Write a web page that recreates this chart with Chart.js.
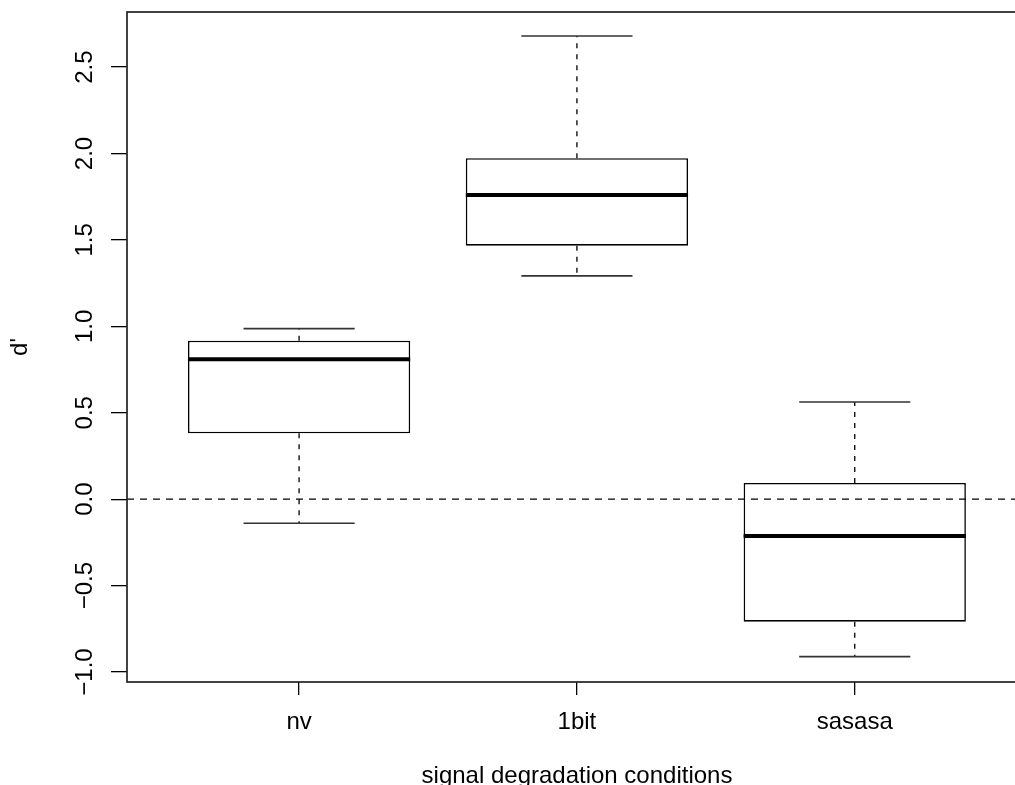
<!DOCTYPE html>
<html>
<head>
<meta charset="utf-8">
<script src="https://cdn.jsdelivr.net/npm/chart.js@4"></script>
<style>
  html, body { margin: 0; padding: 0; background: #fff; overflow: hidden; }
  #wrap { position: relative; width: 1040px; height: 785px; }
</style>
</head>
<body>
<div id="wrap"><canvas id="c" width="1040" height="785"></canvas></div>
<script>
// ---- data ----
const categories   = ['nv', '1bit', 'sasasa'];
const whiskerLow   = [-0.139, 1.292, -0.911];
const lowerQuart   = [0.381, 1.467, -0.709];
const medians      = [0.810, 1.760, -0.213];
const upperQuart   = [0.917, 1.973, 0.094];
const whiskerHigh  = [0.987, 2.680, 0.562];
const yTickValues  = [-1.0, -0.5, 0.0, 0.5, 1.0, 1.5, 2.0, 2.5];
const referenceY   = 0;
const xTitle = 'signal degradation conditions';
const yTitle = "d'";

const xPositions = categories.map((_, i) => i + 1);
const FONT = '24px "Liberation Sans", Arial, sans-serif';

function fmt(v) {
  const s = Math.abs(v).toFixed(1);
  return (v < 0 ? '\u2212' : '') + s;
}

const boxPlugin = {
  id: 'boxExtras',
  beforeDatasetsDraw(chart) {
    const ctx = chart.ctx, x = chart.scales.x, y = chart.scales.y;
    ctx.save();
    categories.forEach((c, i) => {
      const cx = x.getPixelForValue(xPositions[i]);
      ctx.strokeStyle = '#000';
      ctx.lineWidth = 1.3;
      ctx.setLineDash([5, 6]);
      ctx.beginPath();
      ctx.moveTo(cx, y.getPixelForValue(upperQuart[i]));
      ctx.lineTo(cx, y.getPixelForValue(whiskerHigh[i]));
      ctx.moveTo(cx, y.getPixelForValue(lowerQuart[i]));
      ctx.lineTo(cx, y.getPixelForValue(whiskerLow[i]));
      ctx.stroke();
      ctx.setLineDash([]);
      ctx.strokeStyle = '#333';
      ctx.lineWidth = 1.6;
      const xl = x.getPixelForValue(xPositions[i] - 0.2);
      const xr = x.getPixelForValue(xPositions[i] + 0.2);
      ctx.beginPath();
      [whiskerHigh[i], whiskerLow[i]].forEach(v => {
        const py = y.getPixelForValue(v);
        ctx.moveTo(xl, py); ctx.lineTo(xr, py);
      });
      ctx.stroke();
    });
    ctx.restore();
  },
  afterDatasetsDraw(chart) {
    const ctx = chart.ctx, x = chart.scales.x, y = chart.scales.y;
    const a = chart.chartArea;
    ctx.save();
    ctx.strokeStyle = '#000';
    ctx.lineWidth = 4;
    categories.forEach((c, i) => {
      const xl = x.getPixelForValue(xPositions[i] - 0.4);
      const xr = x.getPixelForValue(xPositions[i] + 0.4);
      const py = y.getPixelForValue(medians[i]);
      ctx.beginPath(); ctx.moveTo(xl, py); ctx.lineTo(xr, py); ctx.stroke();
    });
    ctx.lineWidth = 1.3;
    ctx.setLineDash([7, 6]);
    const zy = y.getPixelForValue(referenceY);
    ctx.beginPath(); ctx.moveTo(a.left, zy); ctx.lineTo(a.right, zy); ctx.stroke();
    ctx.setLineDash([]);
    ctx.restore();
  },
  afterDraw(chart) {
    const ctx = chart.ctx, x = chart.scales.x, y = chart.scales.y;
    const a = chart.chartArea;
    ctx.save();
    ctx.strokeStyle = '#222';
    ctx.lineWidth = 1.7;
    ctx.strokeRect(a.left, a.top, a.right - a.left, a.bottom - a.top);
    ctx.fillStyle = '#000';
    ctx.font = FONT;
    y.ticks.forEach(t => {
      const py = y.getPixelForValue(t.value);
      ctx.save();
      ctx.translate(92, py);
      ctx.rotate(-Math.PI / 2);
      ctx.textAlign = 'center';
      ctx.textBaseline = 'alphabetic';
      ctx.fillText(fmt(t.value), 0, 0);
      ctx.restore();
    });
    ctx.textAlign = 'center';
    ctx.textBaseline = 'alphabetic';
    x.ticks.forEach((t, i) => {
      ctx.fillText(categories[i], x.getPixelForValue(t.value), 729);
    });
    ctx.fillText(xTitle, (a.left + a.right) / 2, 783);
    ctx.save();
    ctx.translate(27, (a.top + a.bottom) / 2);
    ctx.rotate(-Math.PI / 2);
    ctx.fillText(yTitle, 0, 0);
    ctx.restore();
    ctx.restore();
  }
};

new Chart(document.getElementById('c'), {
  type: 'bar',
  data: {
    datasets: [{
      data: categories.map((c, i) => ({ x: xPositions[i], y: [lowerQuart[i], upperQuart[i]] })),
      backgroundColor: '#fff',
      borderColor: '#000',
      borderWidth: 1.6,
      borderSkipped: false,
      barPercentage: 0.8,
      categoryPercentage: 1.0
    }]
  },
  options: {
    responsive: false,
    animation: false,
    devicePixelRatio: 1,
    layout: { padding: { left: 0, top: 12, right: 13, bottom: 0 } },
    plugins: { legend: { display: false }, tooltip: { enabled: false } },
    scales: {
      x: {
        type: 'linear',
        offset: false,
        min: 0.3806,
        max: 3.62,
        afterBuildTicks: s => { s.ticks = xPositions.map(v => ({ value: v })); },
        afterFit: s => { s.height = 103; },
        ticks: { display: false },
        border: { display: false },
        grid: { offset: false, drawOnChartArea: false, drawTicks: true, tickLength: 13, color: '#000', lineWidth: 1.3 }
      },
      y: {
        type: 'linear',
        min: -1.058,
        max: 2.819,
        afterBuildTicks: s => { s.ticks = yTickValues.map(v => ({ value: v })); },
        afterFit: s => { s.width = 127; },
        ticks: { display: false },
        border: { display: false },
        grid: { drawOnChartArea: false, drawTicks: true, tickLength: 16, color: '#000', lineWidth: 1.3 }
      }
    }
  },
  plugins: [boxPlugin]
});
</script>
</body>
</html>
